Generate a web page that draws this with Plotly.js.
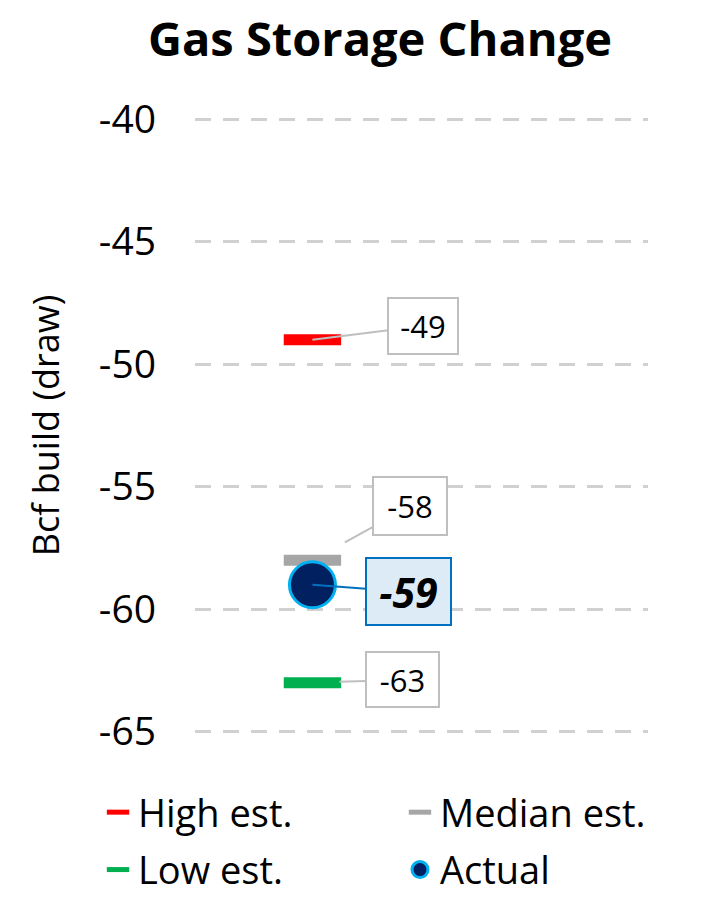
<!DOCTYPE html>
<html>
<head>
<meta charset="utf-8">
<script src="https://cdn.plot.ly/plotly-3.0.1.min.js"></script>
<style>html,body{margin:0;padding:0;background:#fff;}#chart{width:705px;height:900px;}</style>
</head>
<body>
<div id="chart"></div>
<script>
// ---- data ----
const categories = ['Week'];
const seriesNames = ['High est.', 'Median est.', 'Low est.', 'Actual'];
const highEst = [-49];
const medianEst = [-58];
const lowEst = [-63];
const actual = [-59];
const tickValues = [-65, -60, -55, -50, -45, -40];
const tickLabels = ['-65', '-60', '-55', '-50', '-45', '-40'];

const FONT = '"Open Sans", Lato, sans-serif';

function estTrace(name, vals, color, legend, group) {
  return {
    type: 'scatter', mode: 'markers', name: name,
    x: categories, y: vals,
    legend: legend, legendgroup: group,
    marker: {symbol: 'line-ew', size: 41, color: color, line: {color: color, width: 11}},
    hoverinfo: 'skip'
  };
}

const traces = [
  estTrace(seriesNames[0], highEst, '#FF0000', 'legend', 'a'),
  estTrace(seriesNames[1], medianEst, '#A6A6A6', 'legend2', 'b'),
  estTrace(seriesNames[2], lowEst, '#00B050', 'legend', 'c'),
  {
    type: 'scatter', mode: 'markers', name: seriesNames[3],
    x: categories, y: actual, legend: 'legend2', legendgroup: 'd',
    marker: {symbol: 'circle', size: 46, color: '#002060', line: {color: '#00B0F0', width: 3}},
    hoverinfo: 'skip'
  }
];

function fmt(v) { return String(v); }

const annBase = {
  xref: 'x', yref: 'y', showarrow: true, arrowhead: 0, arrowwidth: 2,
  arrowcolor: '#BFBFBF', bgcolor: '#FFFFFF', bordercolor: '#BFBFBF', borderwidth: 2,
  borderpad: 1, font: {family: FONT, size: 31, color: '#000'}
};

const annotations = [
  Object.assign({}, annBase, {x: 0, y: highEst[0], text: fmt(highEst[0]), ax: 111, ay: -14, width: 66, height: 52}),
  Object.assign({}, annBase, {x: 0, y: medianEst[0], text: fmt(medianEst[0]), ax: 98, ay: -54, standoff: 37, width: 70, height: 54}),
  Object.assign({}, annBase, {x: 0, y: lowEst[0], text: fmt(lowEst[0]), ax: 90, ay: -3, standoff: 27, width: 69, height: 51}),
  Object.assign({}, annBase, {x: 0, y: actual[0], text: '<b><i>' + fmt(actual[0]) + '</i></b>', ax: 96, ay: 7,
    width: 81, height: 63, bgcolor: '#DDEBF7', bordercolor: '#0070C0', arrowcolor: '#0070C0',
    font: {family: FONT, size: 41, color: '#000'}})
];

const legendCommon = {
  xref: 'paper', yref: 'paper', xanchor: 'left', yanchor: 'top',
  orientation: 'v', bgcolor: 'rgba(0,0,0,0)', tracegroupgap: 5,
  font: {family: FONT, size: 38, color: '#000'}
};

const layout = {
  width: 705, height: 900,
  paper_bgcolor: '#FFFFFF', plot_bgcolor: '#FFFFFF',
  margin: {l: 195, r: 57, t: 118, b: 167, autoexpand: false},
  font: {family: FONT, color: '#000'},
  title: {text: '<b>Gas Storage Change</b>', x: 0.539, xref: 'container', y: 0.956, yref: 'container', yanchor: 'middle',
    font: {family: FONT, size: 47, color: '#000'}},
  xaxis: {type: 'category', range: [-1.05, 3], showgrid: false, zeroline: false, showticklabels: false, ticks: '', showline: false, fixedrange: true},
  yaxis: {
    range: [-65.05, -39.95], tickvals: tickValues, ticktext: tickLabels,
    showgrid: true, gridcolor: '#D0D0D0', gridwidth: 3, griddash: '16px,12px',
    zeroline: false, showline: false, ticks: '', ticklabelstandoff: 38,
    tickfont: {family: FONT, size: 39, color: '#000'},
    title: {text: 'Bcf build (draw)', standoff: 28, font: {family: FONT, size: 36, color: '#000'}}
  },
  showlegend: true,
  legend: Object.assign({}, legendCommon, {x: -0.2141, y: -0.078}),
  legend2: Object.assign({}, legendCommon, {x: 0.4525, y: -0.078}),
  annotations: annotations
};

Plotly.newPlot('chart', traces, layout, {displayModeBar: false, staticPlot: true});
</script>
</body>
</html>
